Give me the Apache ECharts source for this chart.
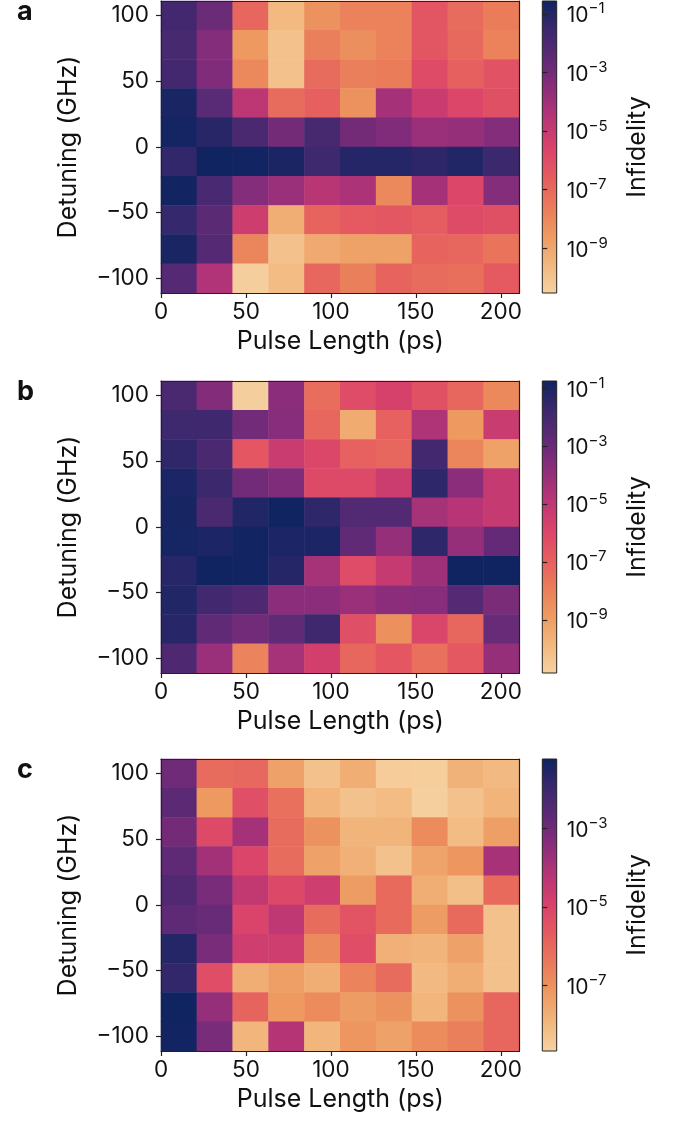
<!DOCTYPE html>
<html>
<head>
<meta charset="utf-8">
<script src="https://cdn.jsdelivr.net/npm/echarts@6.0.0/dist/echarts.min.js"></script>
<style>
html, body { margin: 0; padding: 0; background: #fff; }
#main { width: 699px; height: 1121px; }
</style>
</head>
<body>
<div id="main"></div>
<script>
// cell centres (categories)
var pulseLength = ['10.6', '31.7', '52.8', '73.9', '95.0', '116.1', '137.2', '158.3', '179.4', '200.5'];
var detuning = ['-100', '-77.8', '-55.6', '-33.3', '-11.1', '11.1', '33.3', '55.6', '77.8', '100'];

// log10(infidelity), rows listed from detuning +100 (top) down to -100 (bottom)
var logInfA = [
    [-1.8, -2.8, -6.9, -9.6, -8.3, -7.8, -7.8, -6.3, -7.1, -7.6],
    [-1.9, -3.4, -8.5, -9.9, -7.7, -8.2, -7.8, -6.3, -7.0, -7.8],
    [-1.8, -3.3, -8.0, -9.9, -7.1, -7.7, -7.6, -5.9, -6.7, -6.2],
    [-0.8, -2.4, -4.7, -7.1, -6.7, -8.3, -4.15, -5.1, -5.7, -6.1],
    [-0.7, -1.15, -2.0, -3.0, -1.9, -3.0, -3.3, -3.9, -3.8, -3.4],
    [-1.35, -0.56, -0.65, -0.85, -1.65, -1.05, -1.05, -1.25, -0.95, -1.55],
    [-0.65, -1.95, -3.4, -3.9, -4.6, -4.3, -8.0, -4.15, -5.7, -3.4],
    [-1.45, -2.45, -5.2, -9.2, -6.8, -6.5, -6.4, -6.6, -5.9, -6.1],
    [-0.8, -2.3, -7.9, -9.9, -9.1, -8.8, -8.8, -6.8, -6.9, -7.3],
    [-2.3, -4.4, -10.4, -9.7, -6.9, -7.7, -6.8, -7.1, -7.2, -6.5]
];
var logInfB = [
    [-2.2, -3.6, -10.7, -3.8, -7.4, -6.2, -5.7, -6.4, -7.2, -8.3],
    [-1.85, -1.9, -3.2, -3.7, -7.2, -9.4, -7.0, -4.6, -8.8, -5.3],
    [-1.5, -2.2, -6.6, -5.3, -6.0, -7.0, -7.2, -2.0, -8.2, -9.1],
    [-1.05, -1.8, -3.2, -3.5, -6.1, -6.1, -5.4, -1.45, -3.8, -5.2],
    [-0.95, -2.2, -1.15, -0.75, -1.45, -2.4, -2.4, -4.4, -4.8, -5.2],
    [-0.9, -1.05, -0.85, -1.05, -1.05, -2.8, -4.0, -1.45, -4.0, -2.9],
    [-1.3, -0.75, -0.85, -1.25, -4.4, -6.2, -5.2, -4.2, -0.8, -0.8],
    [-1.15, -1.95, -2.3, -3.8, -3.8, -4.1, -3.8, -3.7, -2.5, -3.4],
    [-1.3, -2.8, -3.2, -2.8, -1.9, -6.3, -8.5, -5.9, -7.2, -2.95],
    [-2.3, -4.1, -8.1, -4.4, -5.6, -7.2, -6.6, -7.5, -6.7, -4.0]
];
var logInfC = [
    [-3.0, -6.1, -6.0, -7.4, -8.2, -7.7, -8.5, -8.55, -7.8, -8.0],
    [-2.65, -7.15, -5.35, -6.2, -7.9, -8.2, -8.05, -8.6, -8.2, -7.85],
    [-3.05, -5.2, -3.9, -6.1, -7.0, -7.85, -7.85, -6.85, -8.05, -7.3],
    [-2.7, -3.85, -5.05, -6.1, -7.4, -7.75, -8.2, -7.45, -7.1, -3.95],
    [-2.4, -3.15, -4.45, -5.15, -4.7, -7.25, -6.05, -7.7, -8.15, -6.05],
    [-2.7, -2.85, -5.0, -4.4, -6.1, -5.5, -6.05, -7.25, -6.05, -8.2],
    [-1.6, -3.15, -4.7, -4.7, -6.8, -5.3, -7.75, -7.85, -7.4, -8.2],
    [-1.8, -5.3, -7.7, -7.3, -7.7, -6.65, -6.1, -8.0, -7.7, -8.2],
    [-1.25, -3.65, -5.9, -7.15, -6.85, -7.25, -7.0, -7.9, -7.0, -5.95],
    [-1.3, -3.15, -7.9, -4.15, -7.9, -7.1, -7.4, -6.85, -6.55, -5.95]
];

// colour scale limits (log10) and colorbar ticks
var scaleA = [-10.53, -0.56];
var scaleB = [-10.84, -0.75];
var scaleC = [-8.67, -1.23];
var cbTicksAB = [-9, -7, -5, -3, -1];
var cbTicksC = [-7, -5, -3];
var xTicks = [0, 50, 100, 150, 200];
var yTicks = [-100, -50, 0, 50, 100];
var xRange = [0, 211];
var yRange = [-111.1, 111.1];

var colormap = ['#f6d2a2', '#f2b77e', '#ed9a60', '#ea7a5a', '#e55b60', '#d9426b',
    '#b73576', '#8b2d7b', '#5f2a76', '#3b286d', '#0f2461'];

var FONT = 'Inter';
var INK = '#111';
var LINE = '#222';

var panels = [
    { letter: 'a', top: 1, rows: logInfA, range: scaleA, ticks: cbTicksAB },
    { letter: 'b', top: 381, rows: logInfB, range: scaleB, ticks: cbTicksAB },
    { letter: 'c', top: 759, rows: logInfC, range: scaleC, ticks: cbTicksC }
];

function minus(v) {
    return String(v).replace('-', '\u2212');
}

// gradient for the colorbar, dark at top
var stops = colormap.slice().reverse().map(function(c, i, arr) {
    return { offset: i / (arr.length - 1), color: c };
});

var grid = [], xAxis = [], yAxis = [], series = [], visualMap = [], title = [];

panels.forEach(function(p, i) {
    var g = grid.length;
    grid.push({ left: 161, top: p.top, width: 358.5, height: 292 });

    // visible value axes (ticks + frame), declared first so they get bottom/left
    xAxis.push({
        gridIndex: g, type: 'value', min: xRange[0], max: xRange[1], position: 'bottom', z: 5,
        axisLine: { onZero: false, lineStyle: { color: LINE, width: 1.2 } },
        axisTick: { length: 5, customValues: xTicks, lineStyle: { color: LINE, width: 1.2 } },
        axisLabel: { customValues: xTicks, margin: 8, fontSize: 22.5, fontFamily: FONT, color: INK },
        splitLine: { show: false },
        name: 'Pulse Length (ps)', nameLocation: 'middle', nameGap: 36,
        nameTextStyle: { fontSize: 25, fontFamily: FONT, color: INK }
    });
    xAxis.push({
        gridIndex: g, type: 'value', min: xRange[0], max: xRange[1], position: 'top', z: 5,
        axisLine: { onZero: false, lineStyle: { color: LINE, width: 1.2 } },
        axisTick: { show: false }, axisLabel: { show: false }, splitLine: { show: false }
    });
    var xCat = xAxis.length;
    xAxis.push({ gridIndex: g, type: 'category', data: pulseLength, show: false });

    yAxis.push({
        gridIndex: g, type: 'value', min: yRange[0], max: yRange[1], position: 'left', z: 5,
        axisLine: { onZero: false, lineStyle: { color: LINE, width: 1.2 } },
        axisTick: { length: 5, customValues: yTicks, lineStyle: { color: LINE, width: 1.2 } },
        axisLabel: { customValues: yTicks, margin: 12, fontSize: 22.5, fontFamily: FONT, color: INK, formatter: minus },
        splitLine: { show: false },
        name: 'Detuning (GHz)', nameLocation: 'middle', nameGap: 80,
        nameTextStyle: { fontSize: 25, fontFamily: FONT, color: INK }
    });
    yAxis.push({
        gridIndex: g, type: 'value', min: yRange[0], max: yRange[1], position: 'right', z: 5,
        axisLine: { onZero: false, lineStyle: { color: LINE, width: 1.2 } },
        axisTick: { show: false }, axisLabel: { show: false }, splitLine: { show: false }
    });
    var yCat = yAxis.length;
    yAxis.push({ gridIndex: g, type: 'category', data: detuning, show: false });

    var data = [];
    p.rows.forEach(function(row, r) {
        row.forEach(function(v, c) {
            data.push([c, p.rows.length - 1 - r, v]);
        });
    });
    series.push({
        type: 'heatmap', xAxisIndex: xCat, yAxisIndex: yCat, data: data,
        emphasis: { disabled: true }, progressive: 0
    });
    visualMap.push({
        type: 'continuous', show: false, seriesIndex: i,
        min: p.range[0], max: p.range[1], inRange: { color: colormap }
    });

    // colorbar
    var cg = grid.length;
    grid.push({
        left: 542.3, top: p.top, width: 14.4, height: 292, show: true,
        backgroundColor: new echarts.graphic.LinearGradient(0, 0, 0, 1, stops),
        borderColor: LINE, borderWidth: 1
    });
    xAxis.push({ gridIndex: cg, type: 'value', show: false });
    yAxis.push({
        gridIndex: cg, type: 'value', position: 'right', min: p.range[0], max: p.range[1],
        axisLine: { show: false },
        axisTick: { show: true, length: 5, customValues: p.ticks, lineStyle: { color: LINE, width: 1.2 } },
        axisLabel: {
            customValues: p.ticks, margin: 10,
            formatter: function(v) { return '{b|10}{s|' + minus(v) + '}'; },
            rich: {
                b: { fontSize: 21, fontFamily: FONT, color: INK, lineHeight: 25, verticalAlign: 'bottom' },
                s: { fontSize: 15, fontFamily: FONT, color: INK, lineHeight: 17, verticalAlign: 'top' }
            }
        },
        splitLine: { show: false },
        name: 'Infidelity', nameLocation: 'middle', nameGap: 68,
        nameTextStyle: { fontSize: 25, fontFamily: FONT, color: INK }
    });

    title.push({
        text: p.letter, left: 17, top: p.top - 3, padding: 0,
        textStyle: { fontSize: 27, fontWeight: 'bold', fontFamily: FONT, color: INK }
    });
});

var myChart = echarts.init(document.getElementById('main'));
myChart.setOption({
    animation: false,
    backgroundColor: '#fff',
    title: title,
    grid: grid,
    xAxis: xAxis,
    yAxis: yAxis,
    visualMap: visualMap,
    series: series
});
</script>
</body>
</html>
